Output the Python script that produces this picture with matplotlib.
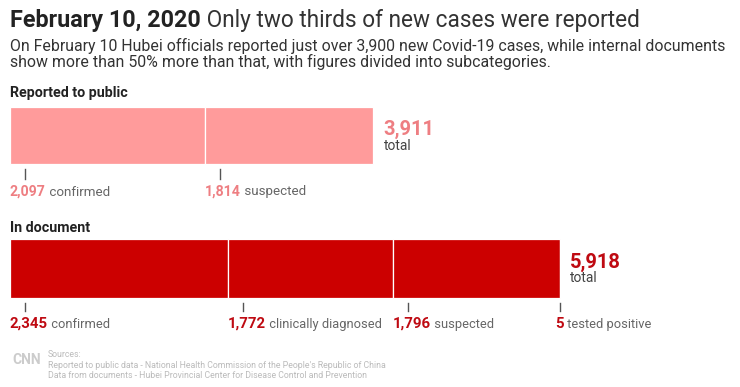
import numpy as np
import matplotlib
matplotlib.use("Agg")
import matplotlib.pyplot as plt

# ---------------------------------------------------------------- data

public_labels = ["confirmed", "suspected"]
public_values = [2097, 1814]

document_labels = ["confirmed", "clinically diagnosed", "suspected", "tested positive"]
document_values = [2345, 1772, 1796, 5]

TITLE_BOLD = "February 10, 2020"
TITLE_REST = " Only two thirds of new cases were reported"
SUBTITLE = ["On February 10 Hubei officials reported just over 3,900 new Covid-19 cases, while internal documents",
            "show more than 50% more than that, with figures divided into subcategories."]
SOURCES = ["Sources:",
           "Reported to public data - National Health Commission of the People's Republic of China",
           "Data from documents - Hubei Provincial Center for Disease Control and Prevention"]

# ---------------------------------------------------------------- style

PINK = "#FF9B9B"
PINK_TEXT = "#EE7E82"
RED = "#CC0000"
RED_TEXT = "#BF0A12"
GREY = "#666666"
DARK = "#222222"
FONT = "Roboto"

W, H = 740, 387
PX = 550 / sum(document_values)      # pixels per case
LEFT_PX = 10

plt.rcParams["font.family"] = [FONT, "DejaVu Sans"]

fig = plt.figure(figsize=(W / 100, H / 100), dpi=100)
ax = fig.add_axes([0, 0, 1, 1])
ax.set_xlim(-LEFT_PX / PX, (W - LEFT_PX) / PX)
ax.set_ylim(H, 0)
ax.axis("off")


def px(n):
    """pixel distance -> data units along x"""
    return n / PX


def number_label(x, y, num, desc, color, num_size, desc_size):
    t = ax.text(x, y, f"{num:,}", color=color, fontsize=num_size,
                fontweight="bold", va="baseline", ha="left")
    ax.annotate(" " + desc, xy=(1, 0), xycoords=t, va="bottom", ha="left",
                fontsize=desc_size, color=GREY)


def stacked(values, labels, yc, height, color, text_color, tick_y, label_y,
            total_y, num_size, desc_size):
    starts = np.concatenate([[0], np.cumsum(values)[:-1]])
    ax.barh(yc, values, left=starts, height=height, color=color,
            edgecolor="white", linewidth=0.9)
    for s, v, lab in zip(starts, values, labels):
        tx = s + min(px(15), v)
        ax.plot([tx, tx], tick_y, color="#555555", lw=1)
        # a tiny last segment gets its label pulled back a little
        lx = s if v > 100 else s - px(4)
        number_label(lx, label_y, v, lab, text_color, num_size, desc_size)
    total = sum(values)
    ax.text(total + px(10), total_y, f"{total:,}", color=text_color,
            fontsize=14.5, fontweight="bold", va="baseline")
    ax.text(total + px(10), total_y + 14.5, "total", color="#444444",
            fontsize=10, va="baseline")


# titles
t = ax.text(0, 27, TITLE_BOLD, fontsize=16.8, fontweight="bold", color=DARK, va="baseline")
ax.annotate(TITLE_REST, xy=(1, 0), xycoords=t, va="bottom", fontsize=16.3, color="#333333")
for i, line in enumerate(SUBTITLE):
    ax.text(0, 51 + i * 16, line, fontsize=11.4, color="#333333", va="baseline")

# reported to public
ax.text(0, 97.5, "Reported to public", fontsize=10.3, fontweight="bold", color=DARK, va="baseline")
stacked(public_values, public_labels, 135.7, 56.7, PINK, PINK_TEXT,
        [169, 179], 195.5, 135, 10.2, 9.6)

# in document
ax.text(0, 232, "In document", fontsize=10.3, fontweight="bold", color=DARK, va="baseline")
stacked(document_values, document_labels, 268.8, 59, RED, RED_TEXT,
        [302.7, 310.5], 328, 267.5, 10.8, 9.3)

# footer
ax.text(px(2), 363.5, "CNN", fontsize=10, fontweight="bold", color="#cccccc", va="baseline")
for i, line in enumerate(SOURCES):
    ax.text(px(38), 357 + i * 10.7, line, fontsize=6.3, color="#bbbbbb", va="baseline")

fig.savefig("out.png", dpi=100, facecolor="white")
